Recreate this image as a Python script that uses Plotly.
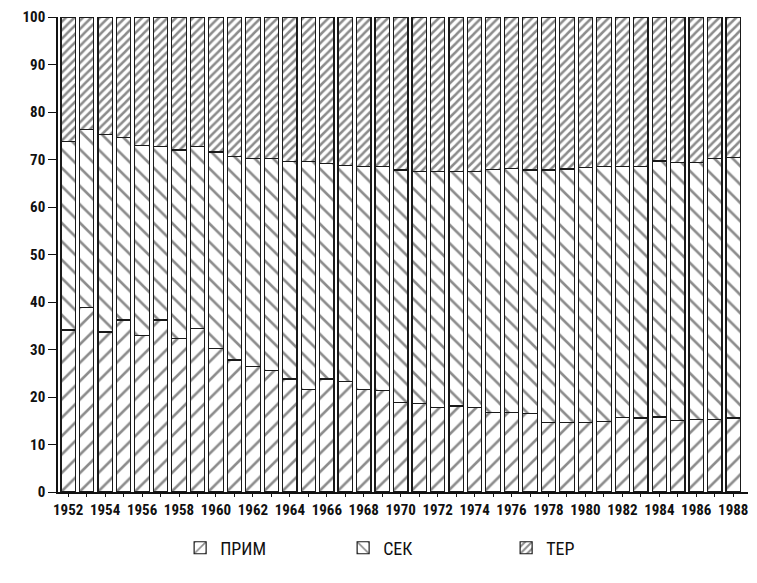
import plotly.graph_objects as go

years = list(range(1952, 1989))
prim = [34.1, 38.8, 33.7, 36.2, 33.0, 36.2, 32.3, 34.5, 30.2, 27.8, 26.5, 25.5,
        23.8, 21.6, 23.8, 23.2, 21.6, 21.3, 18.9, 18.7, 17.8, 18.1, 17.8, 16.7,
        16.8, 16.6, 14.7, 14.7, 14.7, 14.8, 15.7, 15.6, 15.8, 15.0, 15.3, 15.3, 15.6]
prim_sec = [73.8, 76.4, 75.2, 74.7, 73.0, 72.7, 72.0, 72.7, 71.6, 70.6, 70.2, 70.2,
            69.6, 69.5, 69.2, 68.8, 68.6, 68.5, 67.8, 67.4, 67.4, 67.4, 67.4, 67.9,
            68.1, 67.8, 67.8, 68.0, 68.3, 68.6, 68.6, 68.6, 69.7, 69.3, 69.3, 70.2, 70.5]
sec = [round(b - a, 1) for a, b in zip(prim, prim_sec)]
ter = [round(100 - b, 1) for b in prim_sec]
tick_text = [str(y) if (y - 1952) % 2 == 0 else "" for y in years]
y_ticks = list(range(0, 101, 10))

FONT = "Roboto Condensed, Liberation Sans, Arial, sans-serif"

fig = go.Figure()
series = [
    ("ПРИМ", prim, "/", 13, 0.2),
    ("СЕК", sec, "\\", 13, 0.2),
    ("ТЕР", ter, "/", 6, 0.42),
]
for name, vals, shape, size, sol in series:
    fig.add_trace(go.Bar(
        x=years, y=vals, name=name,
        marker=dict(
            color="white",
            line=dict(color="#1a1a1a", width=1.2),
            pattern=dict(shape=shape, size=size, solidity=sol,
                         fgcolor="#1a1a1a", bgcolor="white", fillmode="overlay"),
        ),
    ))

fig.update_layout(
    barmode="stack",
    bargap=0.22,
    width=749, height=575,
    margin=dict(l=50, r=9, t=9, b=91, autoexpand=False),
    paper_bgcolor="white", plot_bgcolor="white",
    font=dict(family=FONT, size=14, color="#111111"),
    showlegend=True,
    legend=dict(orientation="h", x=0.177, xanchor="left", y=-0.118, yanchor="middle",
                font=dict(family=FONT, size=18, color="#111111"),
                entrywidth=118, entrywidthmode="pixels",
                traceorder="normal"),
    xaxis=dict(
        range=[1951.45, 1988.8], tickmode="array", tickvals=years,
        ticktext=tick_text, automargin=False,
        showline=True, linecolor="#111111", linewidth=1.5,
        ticks="outside", ticklen=3, tickcolor="#111111",
        showgrid=False, zeroline=False,
        tickfont=dict(family=FONT, size=15, color="#111111", weight="bold"),
    ),
    yaxis=dict(
        range=[0, 100], tickmode="array", tickvals=y_ticks, automargin=False,
        showline=True, linecolor="#111111", linewidth=1.5,
        ticks="outside", ticklen=8, tickcolor="#111111",
        showgrid=False, zeroline=False,
        tickfont=dict(family=FONT, size=15, color="#111111", weight="bold"),
    ),
)

fig.write_html("out.html")
